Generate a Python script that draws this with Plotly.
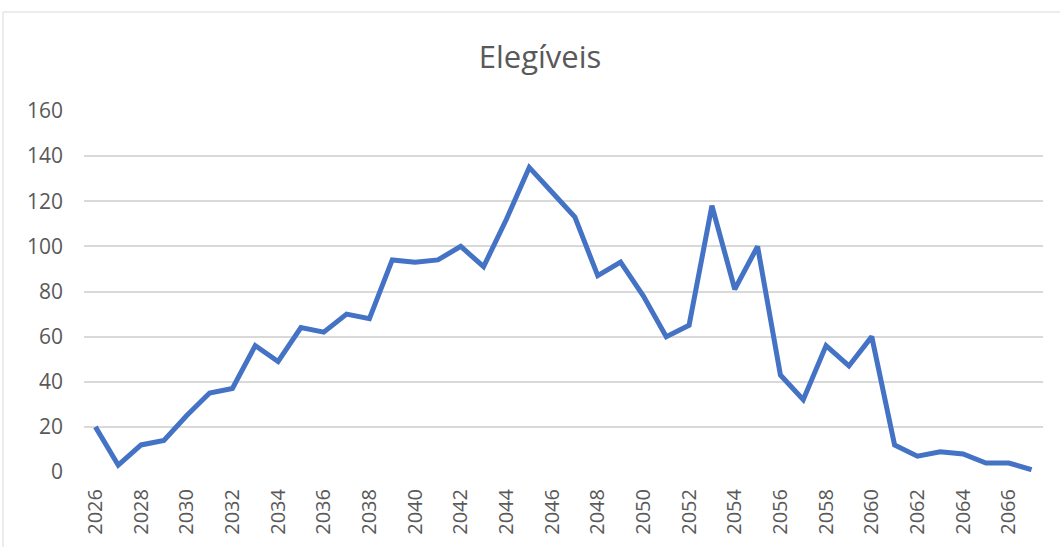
import plotly.graph_objects as go

years = list(range(2026, 2068))
values = [20, 3, 12, 14, 25, 35, 37, 56, 49, 64, 62, 70, 68, 94, 93, 94, 100, 91, 112, 135,
          124, 113, 87, 93, 78, 60, 65, 118, 81, 100, 43, 32, 56, 47, 60, 12, 7, 9, 8, 4, 4, 1]
tick_years = list(range(2026, 2067, 2))
y_ticks = list(range(0, 161, 20))

W, H = 1060, 547
L, R, T, B = 84, 17, 111, 75
pw, ph = W - L - R, H - T - B

def px_x(p):
    return (p - L) / pw

def px_y(p):
    return (H - B - p) / ph

fig = go.Figure()
fig.add_trace(go.Scatter(x=years, y=values, mode="lines",
                         line=dict(color="#4472C4", width=5),
                         hoverinfo="x+y"))

fig.add_shape(type="rect", xref="paper", yref="paper",
              x0=px_x(3), x1=px_x(1063), y0=px_y(550), y1=px_y(12),
              line=dict(color="#d9d9d9", width=1), fillcolor="rgba(0,0,0,0)", layer="below")

fig.update_layout(
    width=W, height=H,
    margin=dict(l=L, r=R, t=T, b=B),
    paper_bgcolor="white", plot_bgcolor="white",
    showlegend=False,
    font=dict(family="Open Sans, Liberation Sans, sans-serif", color="#595959", size=20),
    title=dict(text="Elegíveis", x=px_x(540), xref="paper", xanchor="center",
               y=1 - 57 / H, yanchor="middle", yref="container",
               font=dict(size=31, color="#595959")),
    xaxis=dict(range=[2025.5, 2067.5], tickvals=tick_years, ticktext=[str(t) for t in tick_years],
               tickangle=-90, showgrid=False, zeroline=False, showline=False,
               ticks="", ticklabelstandoff=12, fixedrange=True,
               tickfont=dict(size=20)),
    yaxis=dict(range=[0, 160], tickvals=y_ticks, showgrid=True, gridcolor="#d9d9d9",
               gridwidth=1.5, zeroline=False, showline=False, ticks="",
               ticklabelstandoff=20, fixedrange=True, tickfont=dict(size=21)),
)

fig.write_html("out.html", config={"displayModeBar": False},
               post_script="document.body.style.margin='0';")
